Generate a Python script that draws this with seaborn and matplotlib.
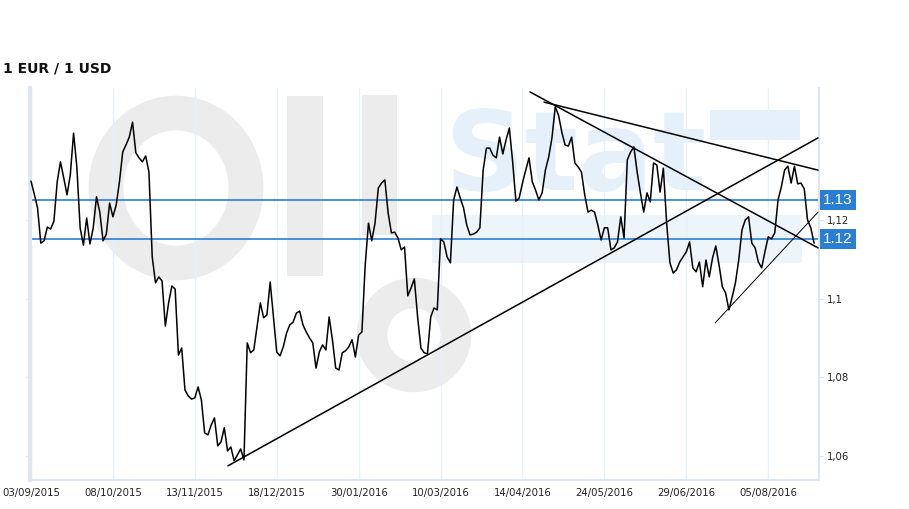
import numpy as np
import pandas as pd
import matplotlib.pyplot as plt
import matplotlib.transforms as mtransforms
from matplotlib.patches import Ellipse, Rectangle, Circle
from matplotlib.ticker import FuncFormatter
import seaborn as sns

# EUR/USD daily close (one value per trading day)
rate = [
    1.1299, 1.1266, 1.1231, 1.1141, 1.1147, 1.1182, 1.1177, 1.1197, 1.1297, 1.1348,
    1.1307, 1.1264, 1.1315, 1.1421, 1.1335, 1.1180, 1.1136, 1.1205, 1.1139, 1.1180,
    1.1259, 1.1220, 1.1147, 1.1164, 1.1243, 1.1208, 1.1238, 1.1297, 1.1373, 1.1391,
    1.1411, 1.1449, 1.1371, 1.1358, 1.1348, 1.1363, 1.1322, 1.1106, 1.1040, 1.1055,
    1.1045, 1.0930, 1.0989, 1.1032, 1.1024, 1.0856, 1.0874, 1.0767, 1.0752, 1.0744,
    1.0747, 1.0775, 1.0742, 1.0658, 1.0653, 1.0678, 1.0696, 1.0625, 1.0635, 1.0671,
    1.0612, 1.0622, 1.0587, 1.0602, 1.0617, 1.0589, 1.0887, 1.0862, 1.0869, 1.0928,
    1.0989, 1.0951, 1.0958, 1.1042, 1.0953, 1.0864, 1.0854, 1.0877, 1.0912, 1.0933,
    1.0940, 1.0963, 1.0968, 1.0933, 1.0915, 1.0900, 1.0887, 1.0823, 1.0864, 1.0882,
    1.0869, 1.0953, 1.0895, 1.0823, 1.0818, 1.0862, 1.0867, 1.0877, 1.0895, 1.0851,
    1.0907, 1.0915, 1.1085, 1.1192, 1.1147, 1.1192, 1.1281, 1.1294, 1.1302, 1.1218,
    1.1167, 1.1169, 1.1154, 1.1124, 1.1131, 1.1007, 1.1027, 1.1050, 1.0953, 1.0874,
    1.0862, 1.0859, 1.0953, 1.0976, 1.0971, 1.1152, 1.1144, 1.1106, 1.1091, 1.1251,
    1.1284, 1.1256, 1.1231, 1.1187, 1.1162, 1.1164, 1.1169, 1.1180, 1.1327, 1.1383,
    1.1383, 1.1365, 1.1358, 1.1411, 1.1368, 1.1404, 1.1434, 1.1348, 1.1248, 1.1256,
    1.1294, 1.1327, 1.1358, 1.1297, 1.1276, 1.1251, 1.1269, 1.1327, 1.1360, 1.1409,
    1.1488, 1.1467, 1.1424, 1.1391, 1.1388, 1.1411, 1.1345, 1.1335, 1.1322, 1.1264,
    1.1220, 1.1225, 1.1220, 1.1187, 1.1149, 1.1180, 1.1180, 1.1124, 1.1129, 1.1144,
    1.1208, 1.1154, 1.1353, 1.1373, 1.1386, 1.1322, 1.1269, 1.1220, 1.1269, 1.1246,
    1.1345, 1.1340, 1.1271, 1.1332, 1.1192, 1.1091, 1.1065, 1.1073, 1.1093, 1.1106,
    1.1119, 1.1144, 1.1078, 1.1068, 1.1093, 1.1030, 1.1098, 1.1055, 1.1103, 1.1134,
    1.1085, 1.1030, 1.1014, 1.0971, 1.1004, 1.1040, 1.1098, 1.1175, 1.1200, 1.1208,
    1.1141, 1.1129, 1.1093, 1.1078, 1.1119, 1.1157, 1.1152, 1.1167, 1.1251, 1.1284,
    1.1327, 1.1337, 1.1294, 1.1337, 1.1292, 1.1294, 1.1279, 1.1200, 1.1180, 1.1141,
]

date_ticks = [0, 25, 50, 75, 100, 125, 150, 175, 200, 225]
date_labels = ['03/09/2015', '08/10/2015', '13/11/2015', '18/12/2015', '30/01/2016',
               '10/03/2016', '14/04/2016', '24/05/2016', '29/06/2016', '05/08/2016']
y_ticks = [1.06, 1.08, 1.1, 1.12]

# marked levels (blue lines with labels)
levels = [1.1251, 1.1152]
level_labels = ['1.13', '1.12']

# drawn trend lines: start idx/value, end idx/value, width
trend_x0 = [60.1, 152.3, 156.6, 208.8]
trend_y0 = [1.0574, 1.1526, 1.1500, 1.0938]
trend_x1 = [240.2, 240.2, 240.2, 240.2]
trend_y1 = [1.1409, 1.1129, 1.1327, 1.1220]
trend_lw = [1.1, 1.1, 1.1, 0.7]

df = pd.DataFrame({'idx': np.arange(len(rate)), 'rate': rate})

sns.set_style('white')
plt.rcParams['font.family'] = ['DejaVu Sans']

fig = plt.figure(figsize=(9.09, 5.09), dpi=100)

# faint "Oil Stat" watermark behind the plot (pixel coordinates)
bg = fig.add_axes([0, 0, 1, 1], zorder=-1)
bg.set_xlim(0, 909)
bg.set_ylim(509, 0)
bg.axis('off')
gray = '#ececec'
bg.add_patch(Ellipse((176, 188), 140, 150, fill=False, ec=gray, lw=25))
bg.add_patch(Rectangle((287, 96), 36, 180, fc=gray, ec='none'))
bg.add_patch(Rectangle((362, 95), 35, 140, fc=gray, ec='none'))
bg.add_patch(Circle((414, 335), 42, fill=False, ec=gray, lw=22))
bg.text(445, 190, 'Stat', fontsize=80, fontweight='bold', color='#e5f0fa',
        ha='left', va='baseline')
bg.add_patch(Rectangle((710, 110), 90, 30, fc='#e5f0fa', ec='none'))
bg.add_patch(Rectangle((432, 215), 370, 48, fc='#edf5fb', ec='none'))

ax = fig.add_axes([30 / 909, 1 - 480 / 509, 789 / 909, 392 / 509])
ax.patch.set_visible(False)

sns.lineplot(data=df, x='idx', y='rate', color='black', lw=1.1, ax=ax, zorder=4)

for x0, y0, x1, y1, lw in zip(trend_x0, trend_y0, trend_x1, trend_y1, trend_lw):
    ax.plot([x0, x1], [y0, y1], color='black', lw=lw, zorder=3)

trans = mtransforms.blended_transform_factory(ax.transAxes, ax.transData)
for lev, lab in zip(levels, level_labels):
    ax.axhline(lev, color='#2a7fd4', lw=1.2, zorder=2)
    ax.annotate(lab, xy=(1.0, lev), xycoords=trans, xytext=(3, 0), textcoords='offset points',
                ha='left', va='center', color='white', fontsize=11,
                family=['Liberation Sans', 'DejaVu Sans'],
                bbox=dict(boxstyle='square,pad=0.2', fc='#2a7fd4', ec='none'), zorder=6,
                annotation_clip=False)

ax.set_xlim(-0.3, 240.5)
ax.set_ylim(1.0538, 1.1536)
ax.set_xticks(date_ticks)
ax.set_xticklabels(date_labels)
ax.set_yticks(y_ticks)
ax.yaxis.set_major_formatter(FuncFormatter(lambda v, _: f'{v:g}'.replace('.', ',')))
ax.set_xlabel('')
ax.set_ylabel('')

ax.grid(axis='x', color='#e8f0f8', lw=1)
ax.grid(axis='y', visible=False)
ax.tick_params(axis='x', length=4, color='#dce8f4', labelsize=7.3, labelcolor='#222', pad=2)
ax.tick_params(axis='y', left=True, right=True, labelleft=False, labelright=True,
               length=3, color='#d5e3f0', labelsize=7.3, labelcolor='#222', pad=3)

ax.spines['left'].set_color('#dbe7f3')
ax.spines['left'].set_linewidth(3)
for s in ['right', 'bottom']:
    ax.spines[s].set_color('#dbe7f3')
    ax.spines[s].set_linewidth(1.5)
ax.spines['top'].set_visible(False)

fig.text(3 / 909, 1 - 68 / 509, '1 EUR / 1 USD', fontweight='bold', fontsize=10,
         va='center', ha='left', color='#111')

fig.savefig('out.png', dpi=100)
